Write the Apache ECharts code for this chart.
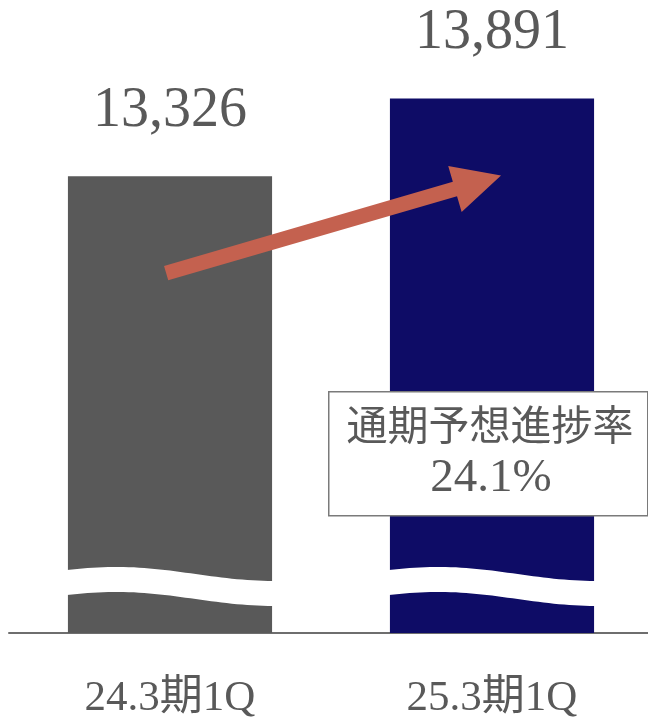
<!DOCTYPE html>
<html>
<head>
<meta charset="utf-8">
<style>
  html, body { margin: 0; padding: 0; background: #ffffff; overflow: hidden; }
  #chart { width: 660px; height: 722px; }
</style>
<script src="https://cdn.jsdelivr.net/npm/echarts@6/dist/echarts.min.js"></script>
</head>
<body>
<div id="chart"></div>
<script>
// Periods and first-quarter figures
const categories = ['24.3期1Q', '25.3期1Q'];
const values = [13326, 13891];
const barColors = ['#595959', '#0E0C66'];

// Progress toward full-year forecast
const progressTitle = '通期予想進捗率';
const progressValue = '24.1%';

// Growth arrow: start / end on the value scale
const arrowFrom = [0, 12620];
const arrowTo = [1, 13330];

// Where the truncated value axis is broken
const breakValue = 10350;

const serif = '"Liberation Serif", "Noto Sans CJK JP", serif';
const textColor = '#595959';

const chart = echarts.init(document.getElementById('chart'), null, { renderer: 'canvas' });

const barWidthRatio = 0.634;

function wavePoints(x0, x1, yMid, amp, offset) {
  const pts = [];
  const n = 40;
  for (let i = 0; i <= n; i++) {
    const t = i / n;
    const y = yMid - amp * Math.cos(Math.PI * (t - 0.24) / 0.76) + offset;
    pts.push([x0 + (x1 - x0) * t, y]);
  }
  return pts;
}

const option = {
  animation: false,
  backgroundColor: '#ffffff',
  grid: { left: 9, width: 644, top: 83.6, bottom: 89, containLabel: false },
  xAxis: {
    type: 'category',
    data: categories,
    axisLine: { show: true, lineStyle: { color: '#6e6e6e', width: 2 } },
    axisTick: { show: false },
    axisLabel: {
      color: textColor,
      fontFamily: serif,
      fontSize: 43,
      margin: 44
    }
  },
  yAxis: {
    type: 'value',
    min: 10000,
    max: 14000,
    show: false,
    splitLine: { show: false }
  },
  series: [
    {
      type: 'bar',
      barWidth: (barWidthRatio * 100) + '%',
      data: values.map((v, i) => ({ value: v, itemStyle: { color: barColors[i] } })),
      label: {
        show: true,
        position: 'top',
        distance: 37,
        color: textColor,
        fontFamily: serif,
        fontSize: 56,
        formatter: p => p.value.toLocaleString('en-US')
      },
      z: 2
    },
    {
      // white wavy band marking the axis break on each bar
      type: 'custom',
      z: 3,
      data: values.map((v, i) => [i, breakValue]),
      renderItem: function (params, api) {
        const c = api.coord([api.value(0), api.value(1)]);
        const band = api.size([1, 0])[0];
        const w = band * barWidthRatio;
        const x0 = c[0] - w / 2 - 1;
        const x1 = c[0] + w / 2 + 1;
        const top = wavePoints(x0, x1, c[1] - 11, 7, 0);
        const bottom = wavePoints(x0, x1, c[1] - 11, 7, 25).reverse();
        return {
          type: 'polygon',
          shape: { points: top.concat(bottom) },
          style: { fill: '#ffffff' }
        };
      }
    },
    {
      // growth arrow between the two bars
      type: 'custom',
      z: 4,
      data: [[arrowFrom[0], arrowFrom[1], arrowTo[0], arrowTo[1]]],
      renderItem: function (params, api) {
        const band = api.size([1, 0])[0];
        const p0 = api.coord([api.value(0), api.value(1)]);
        const p1 = api.coord([api.value(2), api.value(3)]);
        p0[0] -= band * 0.012;
        p1[0] += band * 0.028;
        const dx = p1[0] - p0[0], dy = p1[1] - p0[1];
        const len = Math.sqrt(dx * dx + dy * dy);
        const ux = dx / len, uy = dy / len;
        const nx = -uy, ny = ux;
        const shaftHalf = 7.5, headHalf = 24, headLen = 48;
        const bx = p1[0] - ux * headLen, by = p1[1] - uy * headLen;
        const pts = [
          [p0[0] + nx * shaftHalf, p0[1] + ny * shaftHalf],
          [bx + nx * shaftHalf, by + ny * shaftHalf],
          [bx + nx * headHalf, by + ny * headHalf],
          [p1[0], p1[1]],
          [bx - nx * headHalf, by - ny * headHalf],
          [bx - nx * shaftHalf, by - ny * shaftHalf],
          [p0[0] - nx * shaftHalf, p0[1] - ny * shaftHalf]
        ];
        return {
          type: 'polygon',
          shape: { points: pts },
          style: { fill: '#C4614F' }
        };
      }
    }
  ],
  graphic: [
    {
      type: 'rect',
      left: 328,
      top: 391,
      z: 100,
      zlevel: 1,
      shape: { x: 0, y: 0, width: 319, height: 124 },
      style: { fill: '#ffffff', stroke: '#7a7a7a', lineWidth: 1.5 }
    },
    {
      type: 'text',
      z: 101,
      zlevel: 1,
      x: 490,
      y: 429,
      style: {
        text: progressTitle,
        fill: textColor,
        font: '41px ' + serif,
        align: 'center',
        verticalAlign: 'middle'
      }
    },
    {
      type: 'text',
      z: 101,
      zlevel: 1,
      x: 491,
      y: 479,
      style: {
        text: progressValue,
        fill: textColor,
        font: '47px ' + serif,
        align: 'center',
        verticalAlign: 'middle'
      }
    }
  ]
};

chart.setOption(option);
</script>
</body>
</html>
